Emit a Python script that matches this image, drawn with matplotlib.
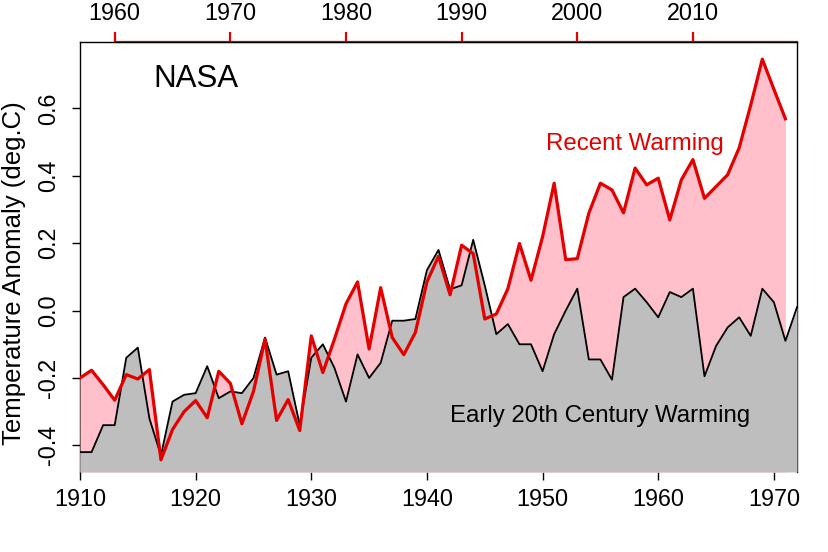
import matplotlib
matplotlib.use('Agg')
import matplotlib.pyplot as plt
import numpy as np

plt.rcParams['font.family'] = ['Liberation Sans', 'DejaVu Sans']

# early 20th century series (bottom axis years)
early_years = np.arange(1910, 1973)
early_anom = [-0.42, -0.42, -0.34, -0.34, -0.14, -0.11, -0.32, -0.43, -0.27, -0.25,
              -0.245, -0.165, -0.26, -0.24, -0.245, -0.20, -0.08, -0.19, -0.18, -0.34,
              -0.14, -0.10, -0.17, -0.27, -0.13, -0.20, -0.155, -0.03, -0.03, -0.025,
              0.12, 0.18, 0.063, 0.075, 0.21, 0.075, -0.07, -0.04, -0.10, -0.10,
              -0.18, -0.07, 0.0, 0.065, -0.145, -0.145, -0.205, 0.04, 0.065, 0.025,
              -0.02, 0.055, 0.04, 0.065, -0.195, -0.105, -0.05, -0.02, -0.075, 0.065,
              0.025, -0.09, 0.01]

# recent series (top axis years), drawn shifted back onto the bottom axis
recent_years = np.arange(1957, 2019)
recent_anom = [-0.20, -0.177, -0.22, -0.266, -0.19, -0.203, -0.175, -0.443, -0.353, -0.30,
               -0.267, -0.318, -0.18, -0.216, -0.336, -0.24, -0.085, -0.326, -0.264, -0.356,
               -0.075, -0.184, -0.085, 0.02, 0.085, -0.114, 0.068, -0.08, -0.131, -0.065,
               0.085, 0.161, 0.047, 0.194, 0.169, -0.025, -0.01, 0.065, 0.199, 0.09,
               0.219, 0.378, 0.151, 0.154, 0.289, 0.378, 0.358, 0.29, 0.423, 0.373,
               0.393, 0.269, 0.388, 0.448, 0.333, 0.368, 0.403, 0.483, 0.61, 0.746,
               0.657, 0.569]
shift = 47

bottom_ticks = [1910, 1920, 1930, 1940, 1950, 1960, 1970]
top_ticks = [1960, 1970, 1980, 1990, 2000, 2010]
y_ticks = [-0.4, -0.2, 0.0, 0.2, 0.4, 0.6]

ymin, ymax = -0.479, 0.797

fig = plt.figure(figsize=(8.29, 5.52), dpi=100)
ax = fig.add_axes([80/829, 80/552, 717/829, 430/552])
ax.set_xlim(1910, 1972)
ax.set_ylim(ymin, ymax)

x_recent = recent_years - shift
ax.fill_between(x_recent, recent_anom, ymin, color='pink', lw=0, zorder=3)
ax.fill_between(early_years, early_anom, ymin, color='#bebebe', lw=0, zorder=3)
ax.plot(early_years, early_anom, color='black', lw=1.3, zorder=4)
ax.plot(x_recent, recent_anom, color='#e50000', lw=2.3, zorder=5)

for s in ['left', 'right', 'top']:
    ax.spines[s].set_color('black')
    ax.spines[s].set_linewidth(1.0)
ax.spines['bottom'].set_visible(False)

ax.set_xticks(bottom_ticks)
ax.tick_params(axis='x', direction='out', length=6, width=1, labelsize=16.8, pad=5.5)
ax.set_yticks(y_ticks)
ax.set_yticklabels(['-0.4', '-0.2', '0.0', '0.2', '0.4', '0.6'])
ax.tick_params(axis='y', direction='out', length=6, width=1, labelsize=16.8, pad=8.5)
for lab in ax.get_yticklabels():
    lab.set_rotation(90)
    lab.set_va('center')

secax = ax.secondary_xaxis('top', functions=(lambda x: x + shift, lambda x: x - shift))
secax.set_xticks(top_ticks)
secax.spines['top'].set_color('#e50000')
secax.spines['top'].set_linewidth(1.6)
secax.spines['top'].set_bounds(1960, 2019)
secax.tick_params(axis='x', colors='#e50000', direction='out', length=7.5, width=1.6,
                  labelsize=16.8, pad=4.5, labelcolor='black')

fig.text(14/829, 1 - 273/552, 'Temperature Anomaly (deg.C)', rotation=90,
         ha='center', va='center', fontsize=18.5)

ax.text(1920.04, 0.663, 'NASA', fontsize=22.5, ha='center', va='baseline', zorder=6)
ax.text(1957.94, 0.476, 'Recent Warming', fontsize=17.3, color='#e50000',
        ha='center', va='baseline', zorder=6)
ax.text(1955.0, -0.33, 'Early 20th Century Warming', fontsize=17.3, color='black',
        ha='center', va='baseline', zorder=6)

fig.savefig('out.png', dpi=100)
